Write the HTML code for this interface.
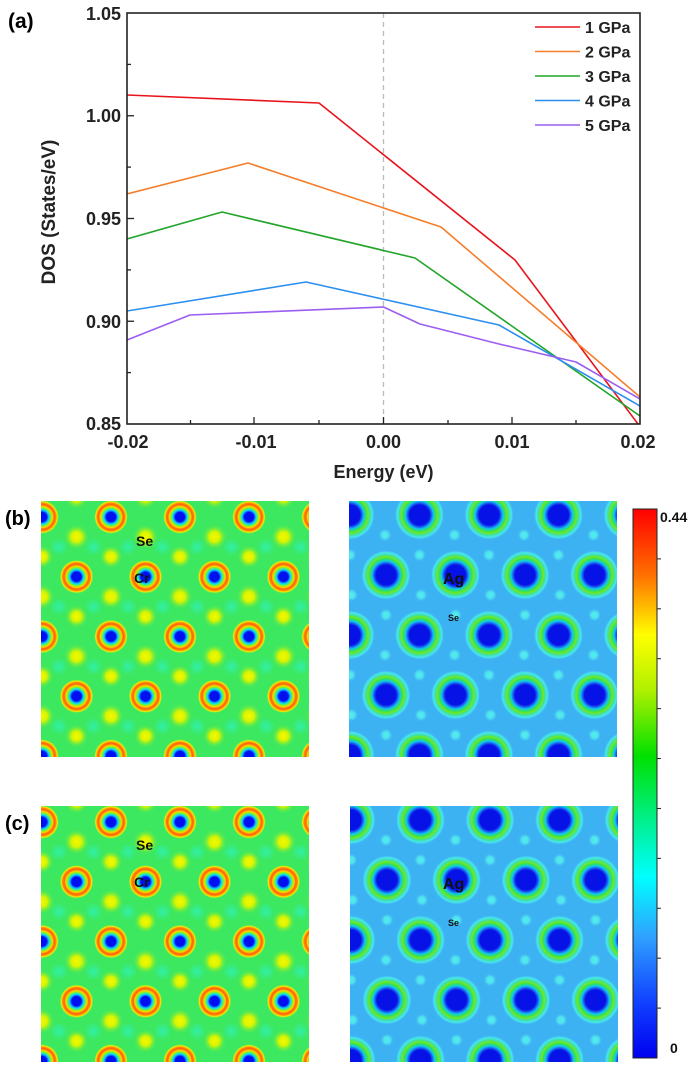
<!DOCTYPE html>
<html><head><meta charset="utf-8"><style>
html,body{margin:0;padding:0;background:#fff;width:700px;height:1067px;overflow:hidden;}
svg{display:block;font-family:"Liberation Sans",Arial,sans-serif;font-weight:bold;}
</style></head><body>
<svg id="s" width="700" height="1067" viewBox="0 0 700 1067" xmlns="http://www.w3.org/2000/svg">
<defs>
<radialGradient id="cr" cx="0.5" cy="0.5" r="0.5">
<stop offset="0" stop-color="#0010f0"/><stop offset="0.28" stop-color="#0010f0"/>
<stop offset="0.38" stop-color="#10b0ff"/><stop offset="0.46" stop-color="#20f0c0"/>
<stop offset="0.55" stop-color="#a0f000"/><stop offset="0.63" stop-color="#ffd000"/>
<stop offset="0.72" stop-color="#ff6010"/><stop offset="0.82" stop-color="#ff8a00"/>
<stop offset="0.9" stop-color="#f8f000"/><stop offset="1" stop-color="#3ce860" stop-opacity="0"/>
</radialGradient>
<radialGradient id="ye" cx="0.5" cy="0.5" r="0.5">
<stop offset="0" stop-color="#f4f800"/><stop offset="0.4" stop-color="#d8f400"/>
<stop offset="1" stop-color="#3ce860" stop-opacity="0"/>
</radialGradient>
<radialGradient id="cy" cx="0.5" cy="0.5" r="0.5">
<stop offset="0" stop-color="#30f0b0" stop-opacity="0.9"/><stop offset="1" stop-color="#30f0b0" stop-opacity="0"/>
</radialGradient>
<radialGradient id="ag" cx="0.5" cy="0.5" r="0.5">
<stop offset="0" stop-color="#0612e6"/><stop offset="0.4" stop-color="#0612e6"/>
<stop offset="0.48" stop-color="#1a60f0"/><stop offset="0.56" stop-color="#10c8f0"/>
<stop offset="0.64" stop-color="#30e060"/><stop offset="0.73" stop-color="#70e820"/>
<stop offset="0.8" stop-color="#40e0a0"/><stop offset="0.9" stop-color="#48e6f0"/>
<stop offset="1" stop-color="#3db2f2" stop-opacity="0"/>
</radialGradient>
<radialGradient id="sd" cx="0.5" cy="0.5" r="0.5">
<stop offset="0" stop-color="#50f0e8"/><stop offset="0.5" stop-color="#50e0f0"/><stop offset="1" stop-color="#3db2f2" stop-opacity="0"/>
</radialGradient>
<linearGradient id="cb" x1="0" y1="0" x2="0" y2="1">
<stop offset="0" stop-color="#ff0000"/><stop offset="0.12" stop-color="#ff7000"/>
<stop offset="0.23" stop-color="#ffff00"/><stop offset="0.33" stop-color="#b0f000"/>
<stop offset="0.45" stop-color="#00e000"/><stop offset="0.57" stop-color="#00f090"/>
<stop offset="0.67" stop-color="#00ffff"/><stop offset="0.78" stop-color="#30a0ff"/>
<stop offset="0.9" stop-color="#1040ff"/><stop offset="1" stop-color="#0000f0"/>
</linearGradient>
<clipPath id="c1"><rect x="41" y="501" width="268" height="256"/></clipPath>
<clipPath id="c2"><rect x="349" y="501" width="268" height="256"/></clipPath>
<clipPath id="c3"><rect x="41" y="806" width="268" height="256"/></clipPath>
<clipPath id="c4"><rect x="350" y="806" width="268" height="256"/></clipPath>
<clipPath id="pc"><rect x="127" y="13" width="513" height="411"/></clipPath>
</defs>

<text x="8" y="28" font-size="21">(a)</text>
<line x1="383.5" y1="13" x2="383.5" y2="424" stroke="#bbb" stroke-width="1.3" stroke-dasharray="5,4"/>
<g clip-path="url(#pc)" fill="none" stroke-width="1.6" stroke-linejoin="round">
<polyline stroke="#e8141c" points="127,95 319,103 515,260 641,428"/>
<polyline stroke="#f57e2a" points="127,194 248,163 441,227 640,397"/>
<polyline stroke="#22a52a" points="127,239 222,212 415,258 640,416"/>
<polyline stroke="#2b8ff0" points="127,311 306,282 499,325 640,406"/>
<polyline stroke="#9b5ef0" points="127,340 190,315 383.5,307 420,324 499,344 576,362 640,399"/>
</g>
<rect x="127" y="13" width="513" height="411" fill="none" stroke="#222" stroke-width="1.6"/>
<g stroke="#222" stroke-width="1.3">
<line x1="254" y1="424" x2="254" y2="417"/><line x1="383.5" y1="424" x2="383.5" y2="417"/><line x1="512" y1="424" x2="512" y2="417"/>
<line x1="190.5" y1="424" x2="190.5" y2="420"/><line x1="319" y1="424" x2="319" y2="420"/><line x1="448" y1="424" x2="448" y2="420"/><line x1="576" y1="424" x2="576" y2="420"/>
<line x1="127" y1="115.75" x2="134" y2="115.75"/><line x1="127" y1="218.5" x2="134" y2="218.5"/><line x1="127" y1="321.25" x2="134" y2="321.25"/>
<line x1="127" y1="64.4" x2="131" y2="64.4"/><line x1="127" y1="167.1" x2="131" y2="167.1"/><line x1="127" y1="269.9" x2="131" y2="269.9"/><line x1="127" y1="372.6" x2="131" y2="372.6"/>
</g>
<g font-size="18" text-anchor="end" fill="#222">
<text x="121" y="20">1.05</text><text x="121" y="122">1.00</text><text x="121" y="225">0.95</text><text x="121" y="328">0.90</text><text x="121" y="430">0.85</text>
</g>
<g font-size="18" text-anchor="middle" fill="#222">
<text x="128" y="448">-0.02</text><text x="256" y="448">-0.01</text><text x="383.5" y="448">0.00</text><text x="512" y="448">0.01</text><text x="638" y="448">0.02</text>
</g>
<text x="383.5" y="478" font-size="18" text-anchor="middle" fill="#222">Energy (eV)</text>
<text transform="translate(55,212) rotate(-90)" font-size="19" text-anchor="middle" fill="#222">DOS (States/eV)</text>
<g stroke-width="1.6">
<line x1="535" y1="27" x2="580" y2="27" stroke="#e8141c"/>
<line x1="535" y1="51.5" x2="580" y2="51.5" stroke="#f57e2a"/>
<line x1="535" y1="76" x2="580" y2="76" stroke="#22a52a"/>
<line x1="535" y1="100.5" x2="580" y2="100.5" stroke="#2b8ff0"/>
<line x1="535" y1="125" x2="580" y2="125" stroke="#9b5ef0"/>
</g>
<g font-size="16" fill="#222">
<text x="585" y="33">1 GPa</text><text x="585" y="57.5">2 GPa</text><text x="585" y="82">3 GPa</text><text x="585" y="106.5">4 GPa</text><text x="585" y="131">5 GPa</text>
</g>

<text x="5" y="525" font-size="20">(b)</text>
<text x="5" y="830" font-size="20">(c)</text>

<g id="L1" clip-path="url(#c1)"><rect x="41" y="501" width="268" height="256" fill="#3ce860"/></g>
<g id="R1" clip-path="url(#c2)"><rect x="349" y="501" width="268" height="256" fill="#3db2f2"/></g>
<g id="L2" clip-path="url(#c3)"><rect x="41" y="806" width="268" height="256" fill="#3ce860"/></g>
<g id="R2" clip-path="url(#c4)"><rect x="350" y="806" width="268" height="256" fill="#3db2f2"/></g>

<g id="labels" fill="#111">
<text x="136" y="546" font-size="14">Se</text><text x="134" y="583" font-size="14">Cr</text>
<text x="136" y="850" font-size="14">Se</text><text x="134" y="887" font-size="14">Cr</text>
<text x="443" y="584" font-size="16">Ag</text><text x="448" y="621" font-size="9">Se</text>
<text x="443" y="889" font-size="16">Ag</text><text x="448" y="926" font-size="9">Se</text>
</g>

<rect x="633" y="509" width="24" height="549" fill="url(#cb)" stroke="#222" stroke-width="1"/>
<g id="cbt" stroke="#222" stroke-width="1"></g>
<text x="660" y="522" font-size="14" fill="#111">0.44</text>
<text x="670" y="1053" font-size="14" fill="#111">0</text>
</svg>
<script>
var NS="http://www.w3.org/2000/svg";
function el(p,t,a){var e=document.createElementNS(NS,t);for(var k in a)e.setAttribute(k,a[k]);p.appendChild(e);return e;}
function left(id,x0,y0){var g=document.getElementById(id);
 var a=69,dy=59.75;
 for(var r=-1;r<6;r++){var off=(r%2!==0)?34.5:0;
  for(var i=-1;i<6;i++){var x=x0+1+off+a*i,y=y0+16+dy*r;
   el(g,'circle',{cx:x+17,cy:y+30,r:9,fill:'url(#cy)'});
   el(g,'circle',{cx:x+51.5,cy:y+30,r:9,fill:'url(#cy)'});
   el(g,'circle',{cx:x+34.5,cy:y+19.9,r:13,fill:'url(#ye)'});
   el(g,'circle',{cx:x,cy:y+39.8,r:12,fill:'url(#ye)'});
 }}
 for(var r=-1;r<6;r++){var off=(r%2!==0)?34.5:0;
  for(var i=-1;i<6;i++){var x=x0+1+off+a*i,y=y0+16+dy*r;
   el(g,'circle',{cx:x,cy:y,r:17,fill:'url(#cr)'});
 }}}
function right(id,x0,y0){var g=document.getElementById(id);
 var a=69.5,dy=60;
 for(var r=-1;r<6;r++){var off=(r%2!==0)?36:0;
  for(var i=-1;i<6;i++){var x=x0+1+off+a*i,y=y0+14+dy*r;
   el(g,'circle',{cx:x+35,cy:y+20,r:7,fill:'url(#sd)'});
   el(g,'circle',{cx:x,cy:y+40,r:7,fill:'url(#sd)'});
 }}
 for(var r=-1;r<6;r++){var off=(r%2!==0)?36:0;
  for(var i=-1;i<6;i++){var x=x0+1+off+a*i,y=y0+14+dy*r;
   el(g,'circle',{cx:x,cy:y,r:25,fill:'url(#ag)'});
 }}}
left('L1',41,501);left('L2',41,806);right('R1',349,501);right('R2',350,806);
var t=document.getElementById('cbt');
for(var k=1;k<11;k++){var y=509+549*k/11;el(t,'line',{x1:657,y1:y,x2:661,y2:y});}
</script>
</body></html>
